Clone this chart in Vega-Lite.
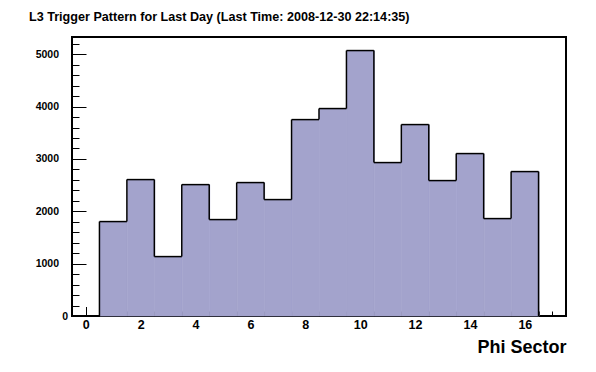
{
  "$schema": "https://vega.github.io/schema/vega-lite/v6.json",
  "width": 494,
  "height": 279,
  "autosize": {"type": "none"},
  "padding": {"left": 72, "top": 37, "right": 30, "bottom": 56},
  "background": "white",
  "config": {
    "font": "Liberation Sans",
    "view": {"stroke": "black", "strokeWidth": 2}
  },
  "title": {
    "text": "L3 Trigger Pattern for Last Day (Last Time: 2008-12-30 22:14:35)",
    "anchor": "start",
    "frame": "group",
    "dx": -43,
    "offset": 13,
    "font": "Liberation Sans",
    "fontSize": 12.6,
    "fontWeight": "bold",
    "color": "black"
  },
  "data": {
    "values": [
      {"sector": 1, "count": 1804},
      {"sector": 2, "count": 2606},
      {"sector": 3, "count": 1135},
      {"sector": 4, "count": 2510},
      {"sector": 5, "count": 1842},
      {"sector": 6, "count": 2549},
      {"sector": 7, "count": 2224},
      {"sector": 8, "count": 3752},
      {"sector": 9, "count": 3963},
      {"sector": 10, "count": 5071},
      {"sector": 11, "count": 2931},
      {"sector": 12, "count": 3657},
      {"sector": 13, "count": 2587},
      {"sector": 14, "count": 3103},
      {"sector": 15, "count": 1861},
      {"sector": 16, "count": 2759}
    ]
  },
  "transform": [
    {"bin": {"step": 1, "anchor": 0.5, "extent": [0.5, 16.5]}, "field": "sector", "as": ["lo", "hi"]},
    {"window": [{"op": "lag", "field": "count", "as": "prev"}], "sort": [{"field": "sector"}]}
  ],
  "resolve": {"axis": {"x": "independent", "y": "independent"}},
  "layer": [
    {
      "mark": {"type": "bar", "fill": "#a3a3cc", "binSpacing": 0, "stroke": "#a3a3cc", "strokeWidth": 0.6},
      "encoding": {
        "x": {
          "field": "lo", "type": "quantitative", "bin": "binned",
          "scale": {"domain": [-0.5, 17.5], "nice": false, "zero": false},
          "axis": {
            "orient": "bottom",
            "values": [0, 2, 4, 6, 8, 10, 12, 14, 16],
            "tickCount": 200,
            "format": "d",
            "labelOverlap": false,
            "labelFlush": false,
            "domain": false,
            "grid": false,
            "tickColor": "black",
            "tickWidth": 1,
            "tickSize": -9.5,
            "labelPadding": 12,
            "labelFont": "Liberation Sans",
            "labelFontSize": 12.5,
            "labelFontWeight": "bold",
            "labelColor": "black",
            "title": "Phi Sector",
            "titleFont": "Liberation Sans",
            "titleFontSize": 18,
            "titleFontWeight": "bold",
            "titleColor": "black",
            "titleAnchor": "end",
            "titleAlign": "right",
            "titlePadding": 7
          }
        },
        "x2": {"field": "hi"},
        "y": {
          "field": "count", "type": "quantitative",
          "scale": {"domain": [0, 5330], "nice": false},
          "axis": {
            "orient": "left",
            "values": [0, 1000, 2000, 3000, 4000, 5000],
            "tickCount": 200,
            "format": "d",
            "labelOverlap": false,
            "labelFlush": false,
            "domain": false,
            "grid": false,
            "tickColor": "black",
            "tickWidth": 1,
            "tickSize": -14,
            "labelPadding": {"condition": {"test": "datum.value === 0", "value": 18.5}, "value": 27.5},
            "labelFont": "Liberation Sans",
            "labelFontSize": 10.5,
            "labelFontWeight": "bold",
            "labelColor": "black",
            "title": null
          }
        }
      }
    },
    {
      "mark": {"type": "rule", "color": "black", "strokeWidth": 1.5},
      "encoding": {
        "x": {
          "field": "lo", "type": "quantitative",
          "axis": {
            "orient": "bottom",
            "values": [0.5,1,1.5,2.5,3,3.5,4.5,5,5.5,6.5,7,7.5,8.5,9,9.5,10.5,11,11.5,12.5,13,13.5,14.5,15,15.5,16.5,17],
            "tickCount": 200,
            "labels": false,
            "domain": false,
            "grid": false,
            "tickColor": "black",
            "tickWidth": 1,
            "tickSize": -5,
            "title": null
          }
        },
        "x2": {"field": "hi"},
        "y": {
          "field": "count", "type": "quantitative",
          "axis": {
            "orient": "left",
            "values": [200,400,600,800,1200,1400,1600,1800,2200,2400,2600,2800,3200,3400,3600,3800,4200,4400,4600,4800,5200],
            "tickCount": 200,
            "labels": false,
            "domain": false,
            "grid": false,
            "tickColor": "black",
            "tickWidth": 1,
            "tickSize": -7,
            "title": null
          }
        }
      }
    },
    {
      "transform": [{"filter": "datum.sector > 1"}],
      "mark": {"type": "rule", "color": "black", "strokeWidth": 1.5},
      "encoding": {
        "x": {"field": "lo", "type": "quantitative", "axis": null},
        "y": {"field": "prev", "type": "quantitative", "axis": null},
        "y2": {"field": "count"}
      }
    },
    {
      "transform": [{"filter": "datum.sector == 1"}],
      "mark": {"type": "rule", "color": "black", "strokeWidth": 1.5},
      "encoding": {
        "x": {"field": "lo", "type": "quantitative", "axis": null},
        "y": {"field": "count", "type": "quantitative", "axis": null},
        "y2": {"datum": 0}
      }
    },
    {
      "transform": [{"filter": "datum.sector == 16"}],
      "mark": {"type": "rule", "color": "black", "strokeWidth": 1.5},
      "encoding": {
        "x": {"field": "hi", "type": "quantitative", "axis": null},
        "y": {"field": "count", "type": "quantitative", "axis": null},
        "y2": {"datum": 0}
      }
    }
  ]
}
